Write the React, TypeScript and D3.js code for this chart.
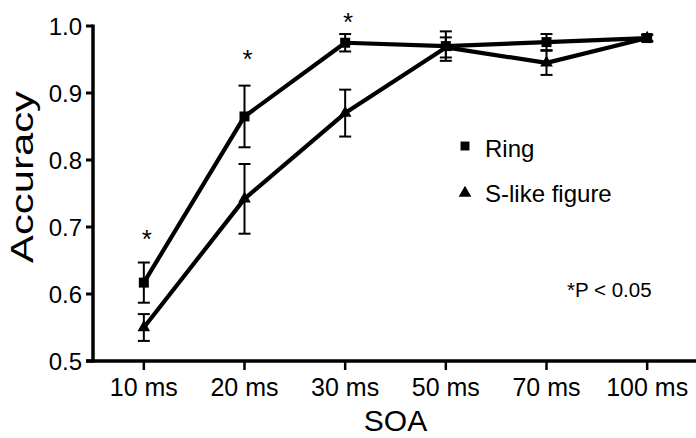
import React from "react";
import * as d3 from "d3";

// SOA conditions on the x axis
const categories = ["10 ms", "20 ms", "30 ms", "50 ms", "70 ms", "100 ms"];

// Mean accuracy and error (±) per condition
const ringMean = [0.617, 0.865, 0.975, 0.97, 0.976, 0.982];
const ringErr = [0.03, 0.046, 0.013, 0.022, 0.012, 0.005];
const sMean = [0.55, 0.742, 0.87, 0.968, 0.945, 0.982];
const sErr = [0.02, 0.052, 0.035, 0.015, 0.018, 0.005];

// Conditions marked as significant, and the height of each asterisk
const sigCategories = ["10 ms", "20 ms", "30 ms"];
const sigLevels = [0.691, 0.96, 1.015];

const yTicks = [0.5, 0.6, 0.7, 0.8, 0.9, 1.0];

const W = 696;
const H = 438;
const FONT = "'Liberation Sans', Arial, Helvetica, sans-serif";

export default function App() {
  const x = d3.scalePoint<string>().domain(categories).range([93.5, 697.5]).padding(0.5);
  const y = d3.scaleLinear().domain([0.5, 1.0]).range([361, 26]);
  const fmt = d3.format(".1f");

  const line = d3
    .line<number>()
    .x((_, i) => x(categories[i]) as number)
    .y((d) => y(d));

  const errorBars = (mean: number[], err: number[], key: string) =>
    mean.map((m, i) => {
      const cx = x(categories[i]) as number;
      const top = y(m + err[i]);
      const bot = y(m - err[i]);
      return (
        <g key={key + i} stroke="#000" strokeWidth={2}>
          <line x1={cx} x2={cx} y1={top} y2={bot} />
          <line x1={cx - 6} x2={cx + 6} y1={top} y2={top} />
          <line x1={cx - 6} x2={cx + 6} y1={bot} y2={bot} />
        </g>
      );
    });

  const squareSym = d3.symbol().type(d3.symbolSquare).size(100)();
  const triSym = d3.symbol().type(d3.symbolTriangle).size(70)();

  return (
    <svg
      width={W}
      height={H}
      style={{ position: "absolute", left: 0, top: 0, background: "#fff" }}
      fontFamily={FONT}
    >
      <rect width={W} height={H} fill="#fff" />

      {/* y axis */}
      <line x1={93} x2={93} y1={y(1.0) - 1.5} y2={y(0.5) + 1.5} stroke="#000" strokeWidth={3.5} />
      {yTicks.map((t) => (
        <g key={"yt" + t}>
          <line x1={86} x2={93} y1={y(t)} y2={y(t)} stroke="#000" strokeWidth={3} />
          <text x={82} y={y(t)} dy="0.36em" textAnchor="end" fontSize={24}>
            {fmt(t)}
          </text>
        </g>
      ))}

      {/* x axis */}
      <line x1={86} x2={W} y1={y(0.5)} y2={y(0.5)} stroke="#000" strokeWidth={3.5} />
      {categories.map((c) => (
        <g key={"xt" + c}>
          <line
            x1={x(c) as number}
            x2={x(c) as number}
            y1={y(0.5)}
            y2={y(0.5) + 9}
            stroke="#000"
            strokeWidth={2.5}
          />
          <text x={x(c) as number} y={396} textAnchor="middle" fontSize={25}>
            {c}
          </text>
        </g>
      ))}

      {/* axis titles */}
      <text x={395.5} y={431} textAnchor="middle" fontSize={30}>
        SOA
      </text>
      <text
        transform="translate(33,177) rotate(-90)"
        textAnchor="middle"
        fontSize={32}
        textLength={172}
        lengthAdjust="spacingAndGlyphs"
      >
        Accuracy
      </text>

      {/* series lines */}
      <path d={line(ringMean) || ""} fill="none" stroke="#000" strokeWidth={4.2} strokeLinejoin="round" />
      <path d={line(sMean) || ""} fill="none" stroke="#000" strokeWidth={4.2} strokeLinejoin="round" />

      {/* error bars */}
      {errorBars(ringMean, ringErr, "re")}
      {errorBars(sMean, sErr, "se")}

      {/* markers */}
      {ringMean.map((m, i) => (
        <path
          key={"rm" + i}
          d={squareSym || ""}
          transform={`translate(${x(categories[i])},${y(m)})`}
          fill="#000"
        />
      ))}
      {sMean.map((m, i) => (
        <path
          key={"sm" + i}
          d={triSym || ""}
          transform={`translate(${x(categories[i])},${y(m)})`}
          fill="#000"
        />
      ))}

      {/* significance asterisks */}
      {sigCategories.map((c, i) => (
        <text
          key={"sig" + c}
          x={(x(c) as number) + 3}
          y={y(sigLevels[i]) + 15}
          textAnchor="middle"
          fontSize={26}
        >
          *
        </text>
      ))}

      {/* legend */}
      <path d={d3.symbol().type(d3.symbolSquare).size(80)() || ""} transform="translate(465,146)" fill="#000" />
      <text x={485} y={157} fontSize={24}>
        Ring
      </text>
      <path d={triSym || ""} transform="translate(465,193)" fill="#000" />
      <text x={485} y={202} fontSize={24}>
        S-like figure
      </text>

      <text x={567} y={297} fontSize={20.5}>
        *P &lt; 0.05
      </text>
    </svg>
  );
}
